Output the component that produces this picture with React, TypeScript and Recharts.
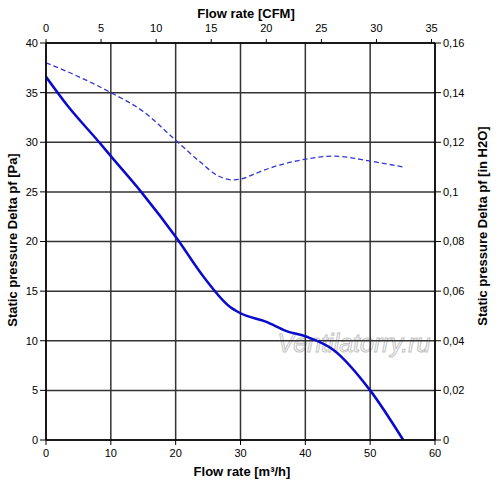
import { LineChart, Line, XAxis, YAxis, CartesianGrid, Label } from 'recharts'

// solid curve: static pressure vs flow (m³/h, Pa)
const solidFlow = [0, 3.3, 8.2, 10, 14.8, 20.2, 24.3, 28.4, 30, 34, 37, 40.2, 44.3, 50, 55.1]
const solidPa = [36.6, 33.7, 30.0, 28.6, 24.9, 20.3, 16.45, 13.4, 12.77, 11.9, 11.0, 10.4, 9.1, 5.0, 0]

// dashed curve
const dashFlow = [0, 3.7, 10, 15, 20, 23.8, 26.3, 28.9, 30.1, 32.5, 35, 40.1, 44.3, 50, 55.1]
const dashPa = [38, 37, 35, 33.1, 30.2, 28.0, 26.7, 26.2, 26.3, 26.9, 27.5, 28.3, 28.6, 28.1, 27.5]

const flowTicks = [0, 10, 20, 30, 40, 50, 60]
const cfmTicks = [0, 5, 10, 15, 20, 25, 30, 35]
const paTicks = [0, 5, 10, 15, 20, 25, 30, 35, 40]
const inchTicks = [0, 0.02, 0.04, 0.06, 0.08, 0.1, 0.12, 0.14, 0.16]

const solidData = solidFlow.map((x, i) => ({ x, p: solidPa[i] }))
const dashData = dashFlow.map((x, i) => ({ x, p: dashPa[i] }))
// invisible helper so the secondary axes have something to scale
const helperData = [
  { cfm: 0, inch: 0 },
  { cfm: 60 / 1.699, inch: 0.16 },
]

const font = '"Liberation Sans", Arial, sans-serif'
const tick = { fontSize: 11, fill: '#000', fontFamily: font }
const titleStyle = { fontSize: 13, fontWeight: 700, fill: '#000', fontFamily: font }
const axisLine = { stroke: '#000', strokeWidth: 1.5 }
const fmtInch = (v: number) => String(v).replace('.', ',')

export default function App() {
  return (
    <div style={{ position: 'absolute', left: 0, top: 0, width: 500, height: 493, background: '#fff' }}>
      <svg width={500} height={493} style={{ position: 'absolute', left: 0, top: 0 }}>
        <text
          x={354}
          y={352}
          textAnchor="middle"
          fontSize={25}
          fontStyle="italic"
          fontFamily={font}
          fill="#fff"
          stroke="#c4c4c4"
          strokeWidth={1}
        >
          Ventilatorry.ru
        </text>
      </svg>
      <div style={{ position: 'absolute', left: 0, top: 0 }}>
        <LineChart width={500} height={493} margin={{ top: 0, right: 0, bottom: 0, left: 0 }}>
          <CartesianGrid xAxisId="flow" yAxisId="pa" stroke="#333" strokeWidth={1.5} />
          <XAxis
            xAxisId="flow"
            type="number"
            dataKey="x"
            domain={[0, 60]}
            ticks={flowTicks}
            allowDataOverflow
            height={53}
            tick={tick}
            tickSize={5}
            tickMargin={4}
            axisLine={axisLine}
            tickLine={{ stroke: '#000' }}
          >
            <Label
              content={() => (
                <text x={242} y={476} textAnchor="middle" style={titleStyle}>
                  Flow rate [m³/h]
                </text>
              )}
            />
          </XAxis>
          <XAxis
            xAxisId="cfm"
            orientation="top"
            type="number"
            dataKey="cfm"
            domain={[0, 60 / 1.699]}
            ticks={cfmTicks}
            allowDataOverflow
            height={43}
            tick={tick}
            tickSize={4}
            tickMargin={7}
            axisLine={axisLine}
            tickLine={{ stroke: '#000' }}
          >
            <Label
              content={() => (
                <text x={246} y={18} textAnchor="middle" style={titleStyle}>
                  Flow rate [CFM]
                </text>
              )}
            />
          </XAxis>
          <YAxis
            yAxisId="pa"
            type="number"
            domain={[0, 40]}
            ticks={paTicks}
            allowDataOverflow
            width={46}
            tick={tick}
            tickSize={6}
            tickMargin={2}
            axisLine={axisLine}
            tickLine={{ stroke: '#000' }}
          >
            <Label
              content={() => (
                <text
                  x={12}
                  y={240}
                  textAnchor="middle"
                  dominantBaseline="central"
                  transform="rotate(-90 12 240)"
                  style={titleStyle}
                >
                  Static pressure Delta pf [Pa]
                </text>
              )}
            />
          </YAxis>
          <YAxis
            yAxisId="inch"
            orientation="right"
            type="number"
            dataKey="inch"
            domain={[0, 0.16]}
            ticks={inchTicks}
            tickFormatter={fmtInch}
            allowDataOverflow
            width={65}
            tick={tick}
            tickSize={6}
            tickMargin={2}
            axisLine={axisLine}
            tickLine={{ stroke: '#000' }}
          >
            <Label
              content={() => (
                <text
                  x={482}
                  y={226}
                  textAnchor="middle"
                  dominantBaseline="central"
                  transform="rotate(-90 482 226)"
                  style={titleStyle}
                >
                  Static pressure Delta pf [in H2O]
                </text>
              )}
            />
          </YAxis>
          <Line
            xAxisId="cfm"
            yAxisId="inch"
            data={helperData}
            dataKey="inch"
            stroke="none"
            dot={false}
            activeDot={false}
            isAnimationActive={false}
          />
          <Line
            xAxisId="flow"
            yAxisId="pa"
            data={dashData}
            dataKey="p"
            type="monotone"
            stroke="#3434d0"
            strokeWidth={1.3}
            strokeDasharray="5 3"
            dot={false}
            activeDot={false}
            isAnimationActive={false}
          />
          <Line
            xAxisId="flow"
            yAxisId="pa"
            data={solidData}
            dataKey="p"
            type="monotone"
            stroke="#0a0acc"
            strokeWidth={2.5}
            dot={false}
            activeDot={false}
            isAnimationActive={false}
          />
        </LineChart>
      </div>
    </div>
  )
}
